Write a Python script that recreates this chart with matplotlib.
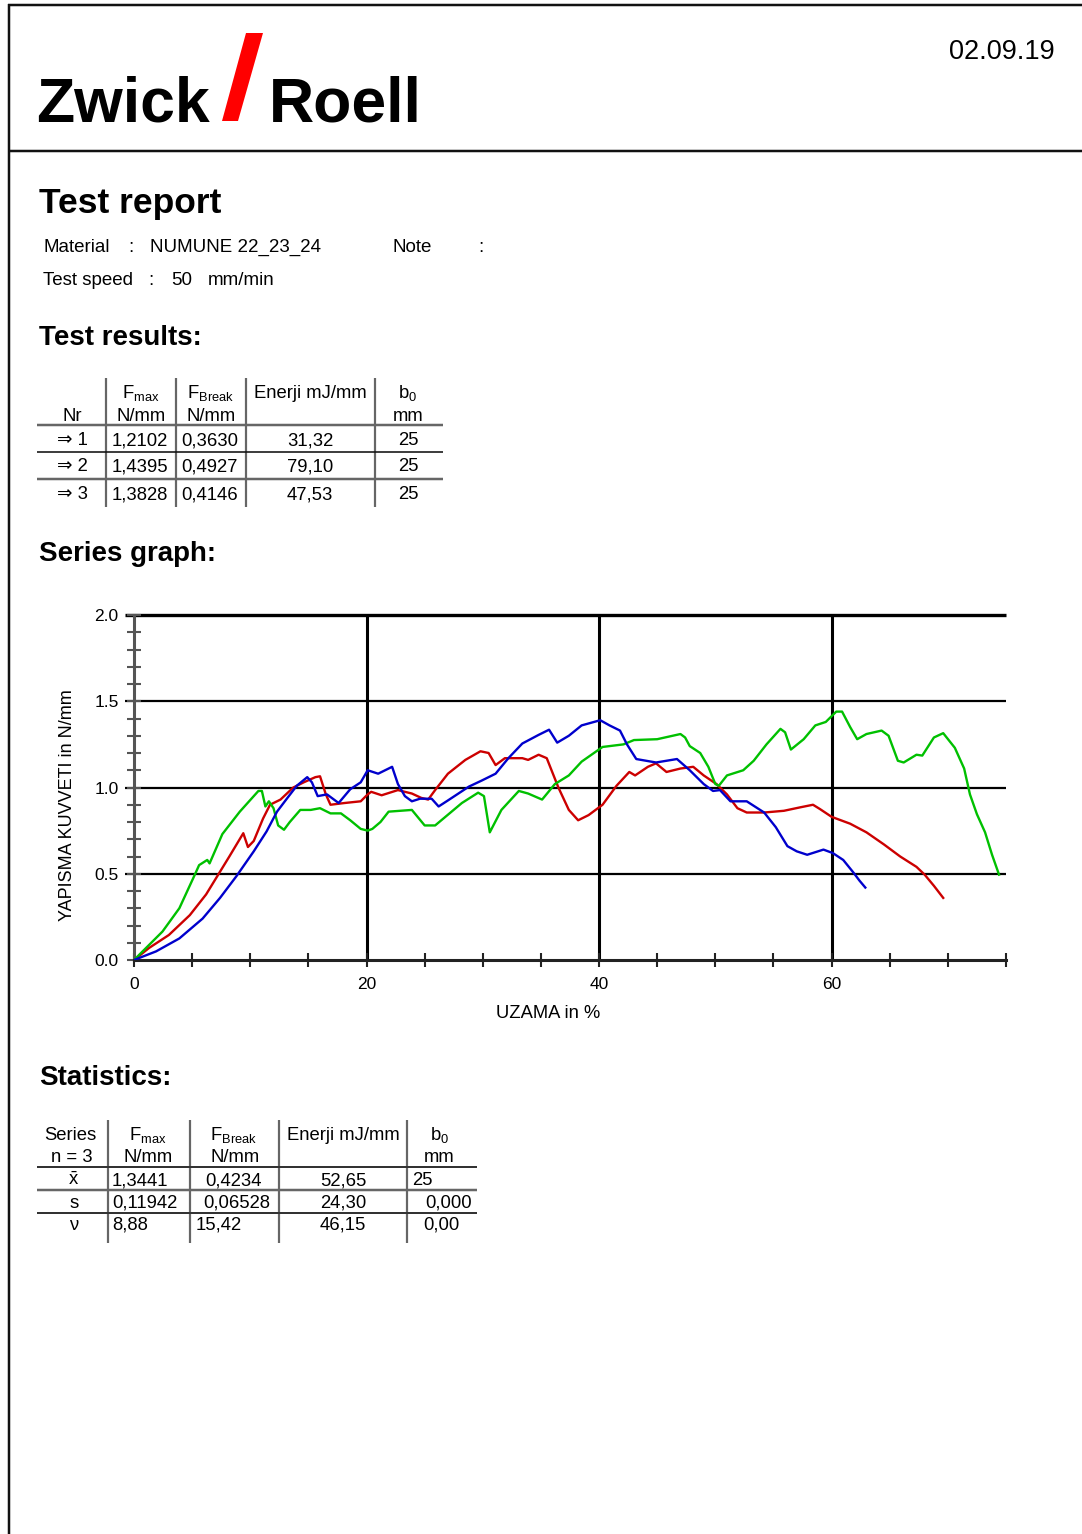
import matplotlib
matplotlib.use("Agg")
import matplotlib.pyplot as plt
from matplotlib.lines import Line2D
from matplotlib.patches import Polygon

plt.rcParams['font.family'] = ['Liberation Sans', 'DejaVu Sans']
plt.rcParams['mathtext.fontset'] = 'custom'
plt.rcParams['mathtext.rm'] = 'Liberation Sans'
plt.rcParams['mathtext.it'] = 'Liberation Sans:italic'
plt.rcParams['mathtext.bf'] = 'Liberation Sans:bold'

# ---------------- data ----------------
report_date = "02.09.19"
material = "NUMUNE 22_23_24"
test_speed = "50"

result_nr = ["\u21d2 1", "\u21d2 2", "\u21d2 3"]
result_fmax = ["1,2102", "1,4395", "1,3828"]
result_fbreak = ["0,3630", "0,4927", "0,4146"]
result_energy = ["31,32", "79,10", "47,53"]
result_b0 = ["25", "25", "25"]

stat_names = [r"$\mathregular{\bar{x}}$", "s", "\u03bd"]
stat_fmax = ["1,3441", "0,11942", "8,88"]
stat_fbreak = ["0,4234", "0,06528", "15,42"]
stat_energy = ["52,65", "24,30", "46,15"]
stat_b0 = ["25", "0,000", "0,00"]

red_x = [0, 1.3, 3.0, 4.8, 6.2, 7.2, 8.2, 9.4, 9.8, 10.3, 11.1, 11.7, 12.6, 13.7, 14.6, 15.6, 16.0,
         16.5, 16.9, 18.1, 19.5, 20.1, 20.4, 21.3, 22.7, 23.9, 24.7, 25.3, 25.9, 27.0, 28.5, 29.8,
         30.5, 31.1, 31.9, 33.4, 33.9, 34.8, 35.5, 36.5, 37.4, 38.2, 39.1, 40.3, 41.5, 42.6, 43.1,
         44.2, 44.9, 45.8, 47.0, 48.1, 49.0, 50.1, 51.0, 51.9, 52.7, 54.2, 55.9, 57.3, 58.4, 59.0,
         60.0, 61.6, 63.0, 64.5, 65.9, 67.3, 68.0, 68.8, 69.6]
red_y = [0, 0.07, 0.145, 0.26, 0.38, 0.49, 0.60, 0.735, 0.655, 0.69, 0.82, 0.90, 0.93, 1.00, 1.03, 1.06, 1.065,
         0.96, 0.90, 0.91, 0.92, 0.96, 0.975, 0.955, 0.985, 0.965, 0.94, 0.93, 0.985, 1.08, 1.16, 1.21,
         1.20, 1.13, 1.17, 1.17, 1.16, 1.19, 1.17, 1.00, 0.87, 0.81, 0.84, 0.90, 1.01, 1.09, 1.07,
         1.12, 1.14, 1.09, 1.11, 1.12, 1.07, 1.02, 0.96, 0.88, 0.855, 0.855, 0.865, 0.885, 0.90, 0.875,
         0.83, 0.79, 0.74, 0.67, 0.60, 0.54, 0.495, 0.43, 0.36]

green_x = [0, 2.45, 3.9, 5.2, 5.6, 6.3, 6.5, 7.6, 9.1, 10.7, 11.0, 11.3, 11.6, 12.0, 12.4, 12.9, 13.4,
           14.3, 15.2, 16.0, 16.9, 17.8, 18.6, 19.5, 20.1, 20.5, 21.2, 21.9, 23.9, 25.0, 25.9, 28.2,
           29.6, 30.1, 30.6, 31.6, 33.1, 33.9, 35.1, 36.2, 37.4, 38.5, 40.3, 42.1, 43.0, 45.0, 47.0,
           47.4, 47.8, 48.7, 49.4, 50.0, 50.3, 51.0, 52.4, 53.3, 54.4, 55.6, 56.0, 56.5, 57.6, 58.6,
           59.5, 60.4, 60.9, 61.6, 62.2, 63.0, 64.3, 64.9, 65.7, 66.2, 67.3, 67.8, 68.8, 69.6, 70.6,
           71.4, 71.9, 72.5, 73.2, 73.8, 74.4]
green_y = [0, 0.165, 0.30, 0.49, 0.55, 0.58, 0.56, 0.73, 0.86, 0.98, 0.98, 0.89, 0.92, 0.88, 0.78, 0.755, 0.80,
           0.87, 0.87, 0.88, 0.85, 0.85, 0.81, 0.76, 0.75, 0.76, 0.80, 0.86, 0.87, 0.78, 0.78, 0.91,
           0.97, 0.95, 0.74, 0.87, 0.98, 0.965, 0.93, 1.02, 1.07, 1.15, 1.235, 1.25, 1.275, 1.28, 1.31,
           1.29, 1.24, 1.20, 1.12, 1.02, 1.01, 1.07, 1.10, 1.155, 1.25, 1.34, 1.32, 1.22, 1.28, 1.36,
           1.38, 1.44, 1.44, 1.35, 1.28, 1.31, 1.33, 1.30, 1.155, 1.145, 1.19, 1.185, 1.29, 1.315, 1.23,
           1.11, 0.96, 0.845, 0.74, 0.61, 0.495]

blue_x = [0, 1.9, 3.9, 5.9, 7.4, 8.8, 10.3, 11.4, 12.3, 13.2, 14.0, 14.9, 15.3, 15.8, 16.6, 17.6, 18.6,
          19.5, 20.1, 21.0, 22.2, 22.7, 23.3, 23.9, 24.6, 25.6, 26.2, 27.0, 28.8, 29.9, 31.1, 32.2,
          33.4, 34.8, 35.7, 36.4, 37.4, 38.5, 40.1, 40.9, 41.8, 42.4, 43.2, 44.9, 46.7, 47.8, 49.0,
          49.8, 50.4, 51.3, 52.7, 54.2, 55.2, 56.2, 57.0, 57.9, 59.3, 60.1, 61.0, 61.9, 62.4, 62.9]
blue_y = [0, 0.05, 0.125, 0.24, 0.36, 0.485, 0.63, 0.745, 0.86, 0.94, 1.01, 1.06, 1.03, 0.95, 0.96, 0.91, 0.99,
          1.03, 1.10, 1.08, 1.12, 1.02, 0.95, 0.92, 0.935, 0.935, 0.89, 0.925, 1.005, 1.04, 1.08, 1.17,
          1.255, 1.305, 1.335, 1.26, 1.30, 1.36, 1.39, 1.36, 1.33, 1.25, 1.165, 1.145, 1.165, 1.10, 1.02,
          0.98, 0.985, 0.92, 0.92, 0.855, 0.77, 0.66, 0.63, 0.61, 0.64, 0.62, 0.58, 0.505, 0.46, 0.42]

x_major = [0, 20, 40, 60]
x_minor = [5, 10, 15, 25, 30, 35, 45, 50, 55, 65, 70, 75]
y_major = [0.0, 0.5, 1.0, 1.5, 2.0]

# ---------------- figure ----------------
W, H = 1082, 1534
fig = plt.figure(figsize=(W / 100, H / 100), dpi=100)
fig.patch.set_facecolor('white')


def fx(x):
    return x / W


def fy(y):
    return 1 - y / H


def T(x, y, s, size=13, ha='left', va='baseline', **kw):
    fig.text(fx(x), fy(y), s, fontsize=size, ha=ha, va=va, **kw)


def L(x0, y0, x1, y1, lw=2.0, color='#111111'):
    fig.add_artist(Line2D([fx(x0), fx(x1)], [fy(y0), fy(y1)], transform=fig.transFigure,
                          lw=lw * 0.72, color=color, solid_capstyle='butt'))


# page frame
L(8, 5, W, 5, 2.5)
L(9, 4, 9, H, 2.5)
L(8, 151, W, 151, 2.5)

# logo
T(36, 121, "Zwick", size=45, weight='bold')
fig.add_artist(Polygon([(fx(222), fy(121)), (fx(238), fy(121)), (fx(263), fy(33)), (fx(246), fy(33))],
                       closed=True, transform=fig.transFigure, facecolor='#ff0000', edgecolor='none'))
T(269, 121, "Roell", size=45, weight='bold')
T(1055, 59, report_date, size=19.5, ha='right')

# header block
T(39, 213, "Test report", size=25.5, weight='bold')
T(43, 252, "Material", size=13.5)
T(128, 252, ":", size=13.5)
T(150, 252, material, size=13.5)
T(393, 252, "Note", size=13.5)
T(478, 252, ":", size=13.5)
T(43, 285, "Test speed", size=13.5)
T(148, 285, ":", size=13.5)
T(171, 285, test_speed, size=13.5)
T(208, 285, "mm/min", size=13.5)

T(39, 345, "Test results:", size=20, weight='bold')

# results table
GRAY = '#666666'
for xv in [106, 176, 246, 375]:
    L(xv, 378, xv, 507, 2.2, GRAY)
L(37, 425, 443, 425, 2.5, GRAY)
L(37, 452, 443, 452, 1.6, '#111111')
L(37, 479, 443, 479, 2.5, GRAY)

TS = 13.3
T(72, 421, "Nr", size=TS, ha='center')
T(141, 398, r"$\mathregular{F_{max}}$", size=TS, ha='center')
T(141, 421, "N/mm", size=TS, ha='center')
T(211, 398, r"$\mathregular{F_{Break}}$", size=TS, ha='center')
T(211, 421, "N/mm", size=TS, ha='center')
T(310, 398, "Enerji mJ/mm", size=TS, ha='center')
T(408, 398, r"$\mathregular{b_0}$", size=TS, ha='center')
T(408, 421, "mm", size=TS, ha='center')
row_y = [445, 471, 499]
for i in range(3):
    T(88, row_y[i], result_nr[i], size=TS, ha='right')
    T(112, row_y[i], result_fmax[i], size=TS)
    T(181, row_y[i], result_fbreak[i], size=TS)
    T(310, row_y[i], result_energy[i], size=TS, ha='center')
    T(408, row_y[i], result_b0[i], size=TS, ha='center')

T(39, 561, "Series graph:", size=20, weight='bold')

# ---------------- chart ----------------
ax = fig.add_axes([134 / W, 1 - 960 / H, 872 / W, 345 / H])
ax.set_xlim(0, 75)
ax.set_ylim(0, 2)
ax.patch.set_alpha(0)
for s in ['top', 'right']:
    ax.spines[s].set_visible(False)
ax.spines['left'].set_linewidth(2.2)
ax.spines['left'].set_color('#555555')
ax.spines['bottom'].set_linewidth(2.2)
ax.spines['bottom'].set_color('#222222')

for xv in [20, 40, 60]:
    ax.plot([xv, xv], [0, 2], color='black', lw=2.2, zorder=1, solid_capstyle='butt')
for yv in [0.5, 1.0, 1.5]:
    ax.plot([-0.8, 75], [yv, yv], color='black', lw=1.6, zorder=1, clip_on=False, solid_capstyle='butt')
ax.plot([-0.8, 75], [2.0, 2.0], color='black', lw=2.4, zorder=1, clip_on=False, solid_capstyle='butt')

ax.set_xticks(x_major)
ax.set_xticklabels([str(v) for v in x_major])
ax.set_xticks(x_minor, minor=True)
ax.set_yticks(y_major)
ax.set_yticklabels(["%.1f" % v for v in y_major])
ax.set_yticks([i / 10 for i in range(21)], minor=True)
ax.tick_params(axis='x', which='both', direction='inout', length=10, width=1.5, color='#222222',
               labelsize=12.5, pad=7)
ax.tick_params(axis='y', which='both', direction='inout', length=10, width=1.5, color='#555555',
               labelsize=12.5, pad=6)

ax.plot(red_x, red_y, color='#cc0000', lw=1.7, zorder=3)
ax.plot(green_x, green_y, color='#00c000', lw=1.7, zorder=3)
ax.plot(blue_x, blue_y, color='#0000cc', lw=1.7, zorder=4)

T(548, 1018, "UZAMA in %", size=13.2, ha='center')
T(68, 805, "YAPISMA KUVVETI in N/mm", size=13, ha='center', va='center', rotation=90)

# ---------------- statistics ----------------
T(39, 1085, "Statistics:", size=20, weight='bold')
for xv in [108, 190, 279, 407]:
    L(xv, 1120, xv, 1243, 2.2, GRAY)
L(37, 1167, 477, 1167, 2.0, '#333333')
L(37, 1190, 477, 1190, 2.5, GRAY)
L(37, 1213, 477, 1213, 2.0, '#333333')

T(70, 1140, "Series", size=TS, ha='center')
T(72, 1162, "n = 3", size=TS, ha='center')
T(148, 1140, r"$\mathregular{F_{max}}$", size=TS, ha='center')
T(148, 1162, "N/mm", size=TS, ha='center')
T(234, 1140, r"$\mathregular{F_{Break}}$", size=TS, ha='center')
T(235, 1162, "N/mm", size=TS, ha='center')
T(343, 1140, "Enerji mJ/mm", size=TS, ha='center')
T(440, 1140, r"$\mathregular{b_0}$", size=TS, ha='center')
T(439, 1162, "mm", size=TS, ha='center')

srow_y = [1185, 1208, 1230]
fb_x = [205, 203, 196]
for i in range(3):
    T(74, srow_y[i], stat_names[i], size=TS, ha='center')
    T(112, srow_y[i], stat_fmax[i], size=TS)
    T(fb_x[i], srow_y[i], stat_fbreak[i], size=TS)
    T(343, srow_y[i], stat_energy[i], size=TS, ha='center')
T(412, srow_y[0], stat_b0[0], size=TS)
T(472, srow_y[1], stat_b0[1], size=TS, ha='right')
T(460, srow_y[2], stat_b0[2], size=TS, ha='right')

fig.savefig("out.png", dpi=100, facecolor='white')
